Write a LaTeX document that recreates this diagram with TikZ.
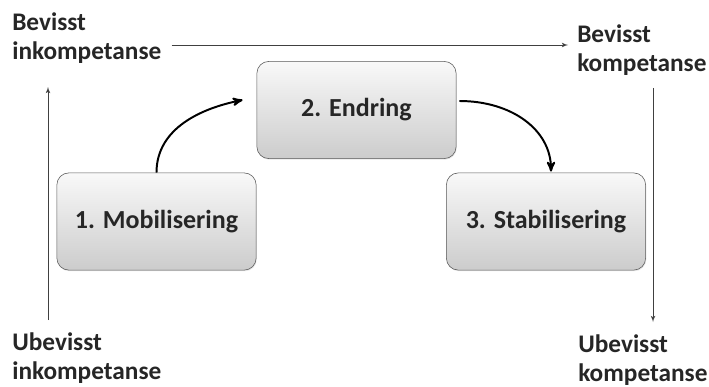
\documentclass[tikz,border=0pt]{standalone}
\usepackage{fontspec}
\setmainfont{Carlito}
\usetikzlibrary{arrows}
\usetikzlibrary{calc}
\usetikzlibrary{shadows}
\tikzset{stage/.style = {draw=black!65, rounded corners=0.3cm,
                         top color=gray!5, bottom color=gray!40,
                         minimum width=4.98cm, minimum height=2.43cm,
                         drop shadow={opacity=0.2, shadow xshift=0.5pt, shadow yshift=-0.8pt},
                         font=\fontsize{18.5}{22}\selectfont\bfseries, text=black!85},
         level/.style = {align=left, inner sep=0pt, anchor=north west,
                         font=\fontsize{18}{20.6}\selectfont\bfseries, text=black!85},
         scale arrow/.style = {draw=black!75, line width=0.5pt, -latex'},
         phase arrow/.style = {line width=1.4pt, -stealth'}}

\begin{document}
\begin{tikzpicture}[x=0.025cm, y=-0.025cm]
      \useasboundingbox (0, 0) rectangle (709, 387);
      % stages
      \node [stage] (mob) at (156.5, 221.5) {1. Mobilisering};
      \node [stage] (endr) at (356.5, 110) {2. Endring};
      \node [stage] (stab) at (546, 221.5) {3. Stabilisering};
      % corners of the scale
      \node [level] (bi) at (12, 12) {Bevisst\\inkompetanse};
      \node [level] (bk) at (577, 24) {Bevisst\\kompetanse};
      \node [level] (ui) at (12, 332) {Ubevisst\\inkompetanse};
      \node [level] (uk) at (578, 334) {Ubevisst\\kompetanse};
      \draw [scale arrow] ($(ui.north west) + (36, -12)$) -- ($(bi.north west) + (36, 75)$);
      \draw [scale arrow] ($(bi.north east) + (10, 33)$) -- ($(bk.north west) + (-9, 21)$);
      \draw [scale arrow] ($(bk.north west) + (76, 64)$) -- ($(uk.north west) + (75, -12)$);
      \draw [phase arrow] (mob.north) .. controls +(0, -45) and +(-40, 8) .. ($(endr.west) + (-14, -10)$);
      \draw [phase arrow] ($(endr.east) + (3, -9)$) .. controls +(52, 0) and +(0, -42) .. ($(stab.north) + (5, -1)$);
    \end{tikzpicture}
\end{document}
